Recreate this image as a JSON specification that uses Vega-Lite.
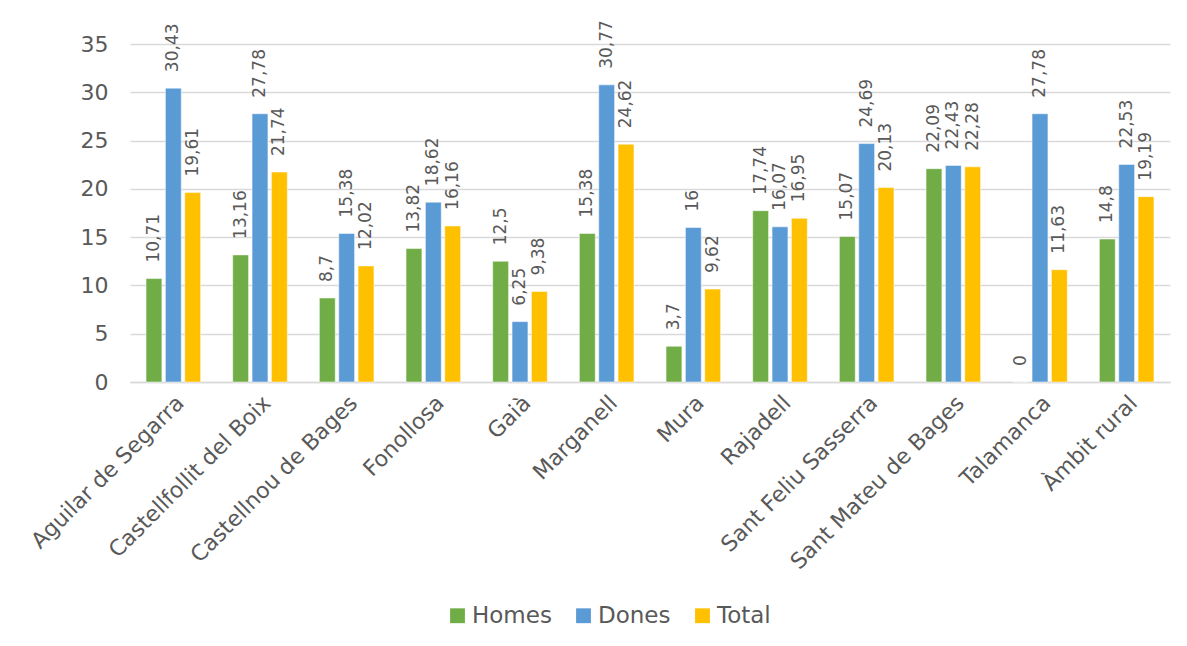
{
  "$schema": "https://vega.github.io/schema/vega-lite/v6.json",
  "autosize": {"type": "none"},
  "width": 1040,
  "height": 338,
  "padding": {"left": 130, "top": 44, "right": 17, "bottom": 264},
  "background": "white",
  "config": {
    "locale": {"number": {"decimal": ",", "thousands": ".", "grouping": [3], "currency": ["", " €"]}},
    "font": "DejaVu Sans",
    "view": {"stroke": null}
  },
  "data": {"values": [
    {"m": "Aguilar de Segarra", "s": "Homes", "v": 10.71},
    {"m": "Aguilar de Segarra", "s": "Dones", "v": 30.43},
    {"m": "Aguilar de Segarra", "s": "Total", "v": 19.61},
    {"m": "Castellfollit del Boix", "s": "Homes", "v": 13.16},
    {"m": "Castellfollit del Boix", "s": "Dones", "v": 27.78},
    {"m": "Castellfollit del Boix", "s": "Total", "v": 21.74},
    {"m": "Castellnou de Bages", "s": "Homes", "v": 8.7},
    {"m": "Castellnou de Bages", "s": "Dones", "v": 15.38},
    {"m": "Castellnou de Bages", "s": "Total", "v": 12.02},
    {"m": "Fonollosa", "s": "Homes", "v": 13.82},
    {"m": "Fonollosa", "s": "Dones", "v": 18.62},
    {"m": "Fonollosa", "s": "Total", "v": 16.16},
    {"m": "Gaià", "s": "Homes", "v": 12.5},
    {"m": "Gaià", "s": "Dones", "v": 6.25},
    {"m": "Gaià", "s": "Total", "v": 9.38},
    {"m": "Marganell", "s": "Homes", "v": 15.38},
    {"m": "Marganell", "s": "Dones", "v": 30.77},
    {"m": "Marganell", "s": "Total", "v": 24.62},
    {"m": "Mura", "s": "Homes", "v": 3.7},
    {"m": "Mura", "s": "Dones", "v": 16},
    {"m": "Mura", "s": "Total", "v": 9.62},
    {"m": "Rajadell", "s": "Homes", "v": 17.74},
    {"m": "Rajadell", "s": "Dones", "v": 16.07},
    {"m": "Rajadell", "s": "Total", "v": 16.95},
    {"m": "Sant Feliu Sasserra", "s": "Homes", "v": 15.07},
    {"m": "Sant Feliu Sasserra", "s": "Dones", "v": 24.69},
    {"m": "Sant Feliu Sasserra", "s": "Total", "v": 20.13},
    {"m": "Sant Mateu de Bages", "s": "Homes", "v": 22.09},
    {"m": "Sant Mateu de Bages", "s": "Dones", "v": 22.43},
    {"m": "Sant Mateu de Bages", "s": "Total", "v": 22.28},
    {"m": "Talamanca", "s": "Homes", "v": 0},
    {"m": "Talamanca", "s": "Dones", "v": 27.78},
    {"m": "Talamanca", "s": "Total", "v": 11.63},
    {"m": "Àmbit rural", "s": "Homes", "v": 14.8},
    {"m": "Àmbit rural", "s": "Dones", "v": 22.53},
    {"m": "Àmbit rural", "s": "Total", "v": 19.19}
  ]},
  "encoding": {
    "x": {
      "field": "m", "type": "nominal", "sort": null, "title": null,
      "scale": {"paddingInner": 0.37, "paddingOuter": 0.185},
      "axis": {"labelAngle": -45, "labelFontSize": 22, "labelColor": "#595959", "ticks": false, "domainColor": "#d9d9d9", "domainWidth": 1.5, "labelPadding": 10, "labelLimit": 400}
    },
    "xOffset": {"field": "s", "type": "nominal", "sort": ["Homes", "Dones", "Total"], "scale": {"paddingInner": 0.18}},
    "y": {
      "field": "v", "type": "quantitative", "title": null,
      "scale": {"domain": [0, 35], "nice": false},
      "axis": {"values": [0, 5, 10, 15, 20, 25, 30, 35], "labelFontSize": 22, "labelColor": "#595959", "ticks": false, "domain": false, "gridColor": "#d9d9d9", "gridWidth": 1.5, "labelPadding": 22}
    }
  },
  "layer": [
    {
      "mark": {"type": "bar", "stroke": "white", "strokeWidth": 0.5},
      "encoding": {
        "color": {
          "field": "s", "type": "nominal", "title": null,
          "scale": {"domain": ["Homes", "Dones", "Total"], "range": ["#70AD47", "#5B9BD5", "#FFC000"]},
          "legend": {"orient": "none", "direction": "horizontal", "legendX": 316, "legendY": 560, "symbolType": "square", "symbolSize": 220, "symbolStrokeWidth": 0, "labelFontSize": 23, "labelColor": "#595959", "columnPadding": 20, "labelOffset": 3}
        }
      }
    },
    {
      "mark": {"type": "text", "angle": -90, "align": "left", "baseline": "middle", "dx": 16, "fontSize": 17, "color": "#595959"},
      "encoding": {
        "text": {"field": "v", "type": "quantitative", "format": ".2~f"}
      }
    }
  ]
}
